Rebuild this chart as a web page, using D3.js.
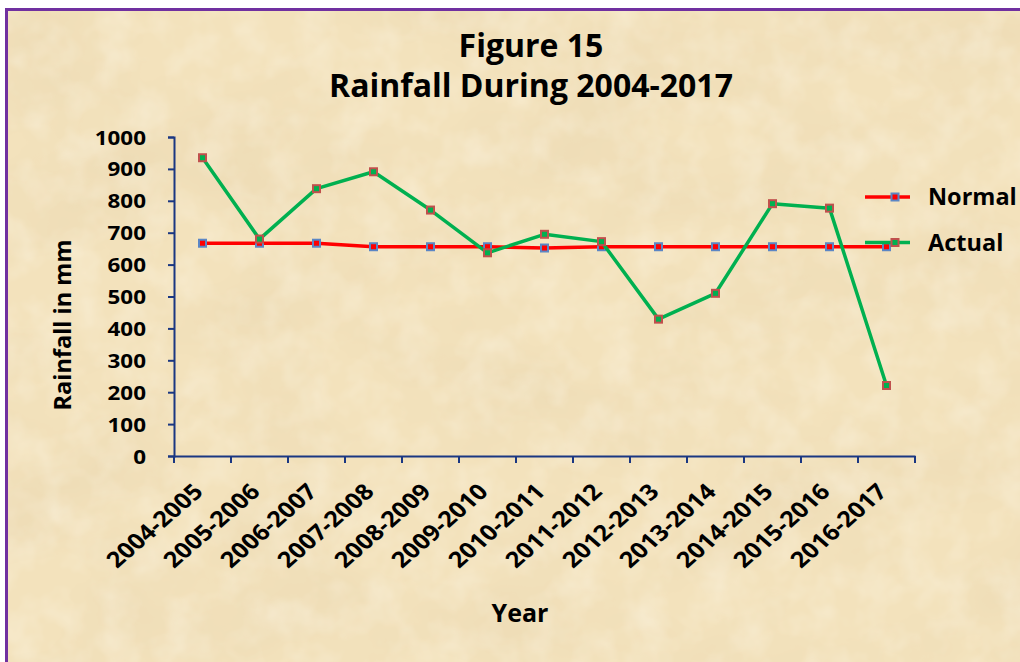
<!DOCTYPE html>
<html>
<head>
<meta charset="utf-8">
<script src="https://cdn.jsdelivr.net/npm/d3@7"></script>
<style>
  body { margin: 0; background: #fff; }
  text { font-family: "Open Sans", sans-serif; font-weight: bold; fill: #000; }
</style>
</head>
<body>
<script>
// data
let years = ["2004-2005", "2005-2006", "2006-2007", "2007-2008", "2008-2009", "2009-2010",
    "2010-2011", "2011-2012", "2012-2013", "2013-2014", "2014-2015", "2015-2016", "2016-2017"];
let normal = [667, 667, 667, 656, 656, 656, 652, 656, 656, 656, 656, 656, 656];
let actual = [935, 680, 838, 891, 771, 637, 695, 672, 429, 510, 791, 777, 221];
let yTicks = [0, 100, 200, 300, 400, 500, 600, 700, 800, 900, 1000];

let W = 1020, H = 662;
let margin = {top: 137, left: 174},
    width = 915 - 174,
    height = 456 - 137;
let stretch = 1.15; // the source picture is a bit wider than tall

let svg = d3.select("body").append("svg")
    .attr("width", W)
    .attr("height", H);

// parchment texture
let defs = svg.append("defs");
let f = defs.append("filter").attr("id", "paper")
    .attr("x", 0).attr("y", 0).attr("width", "100%").attr("height", "100%");
f.append("feTurbulence").attr("type", "fractalNoise")
    .attr("baseFrequency", "0.006 0.009").attr("numOctaves", 5).attr("seed", 11);
f.append("feColorMatrix").attr("type", "matrix")
    .attr("values", "0 0 0 0 0.82  0 0 0 0 0.68  0 0 0 0 0.44  1.1 0 0 0 -0.42");
let f2 = defs.append("filter").attr("id", "paper2")
    .attr("x", 0).attr("y", 0).attr("width", "100%").attr("height", "100%");
f2.append("feTurbulence").attr("type", "fractalNoise")
    .attr("baseFrequency", "0.03").attr("numOctaves", 3).attr("seed", 4);
f2.append("feColorMatrix").attr("type", "matrix")
    .attr("values", "0 0 0 0 0.99  0 0 0 0 0.95  0 0 0 0 0.84  0.7 0 0 0 -0.28");

svg.append("rect")
    .attr("x", 6).attr("y", 9).attr("width", W).attr("height", H)
    .attr("fill", "#f3e2bc");
svg.append("rect")
    .attr("x", 6).attr("y", 9).attr("width", W).attr("height", H)
    .attr("filter", "url(#paper)");
svg.append("rect")
    .attr("x", 6).attr("y", 9).attr("width", W).attr("height", H)
    .attr("filter", "url(#paper2)");
svg.append("rect")
    .attr("x", 6.5).attr("y", 9.5).attr("width", W).attr("height", H)
    .attr("fill", "none").attr("stroke", "#7030a0").attr("stroke-width", 3);

// scales
let x = d3.scaleBand().domain(years).range([0, width]);
let y = d3.scaleLinear().domain([0, 1000]).range([height, 0]);

let g = svg.append("g")
    .attr("transform", "translate(" + margin.left + "," + margin.top + ")");

// titles
svg.append("text").attr("x", 531).attr("y", 57)
    .attr("text-anchor", "middle").style("font-size", "32px").text("Figure 15");
svg.append("text").attr("x", 531).attr("y", 97)
    .attr("text-anchor", "middle").style("font-size", "32px").text("Rainfall During 2004-2017");

// axes
let axisColor = "#1a3782";
let yAxis = g.append("g")
    .call(d3.axisLeft(y).tickValues(yTicks).tickSize(6).tickFormat(d3.format("d")));
let xAxis = g.append("g")
    .attr("transform", "translate(0," + height + ")")
    .call(d3.axisBottom(x).tickSize(0).tickFormat(""));

// category boundary ticks on the x axis
xAxis.selectAll(".bnd")
    .data(years.map(function(d) { return x(d); }).concat([width]))
    .enter().append("line")
    .attr("x1", function(d) { return d; })
    .attr("x2", function(d) { return d; })
    .attr("y1", 0).attr("y2", 7)
    .attr("stroke", axisColor).attr("stroke-width", 2);

[yAxis, xAxis].forEach(function(a) {
    a.select(".domain").attr("stroke", axisColor).attr("stroke-width", 2);
    a.selectAll(".tick line").attr("stroke", axisColor).attr("stroke-width", 2);
});
yAxis.selectAll(".tick text")
    .style("font-size", "19.5px").style("font-family", "'Open Sans', sans-serif")
    .attr("fill", "#000")
    .attr("x", -28 / stretch)
    .attr("dy", "0.36em")
    .attr("transform", "scale(" + stretch + ",1)");

// rotated category labels
g.selectAll(".xlab")
    .data(years)
    .enter().append("text")
    .attr("class", "xlab")
    .attr("text-anchor", "end")
    .style("font-size", "22px")
    .attr("transform", function(d) {
        return "translate(" + (x(d) + x.bandwidth() / 2 + 2) + "," + (height + 37) + ") scale(" + stretch + ",1) rotate(-45)";
    })
    .text(function(d) { return d; });

svg.append("text")
    .attr("transform", "translate(71,325) rotate(-90)")
    .attr("text-anchor", "middle").style("font-size", "23.5px")
    .text("Rainfall in mm");
svg.append("text").attr("x", 520).attr("y", 622)
    .attr("text-anchor", "middle").style("font-size", "25px").text("Year");

// lines
let line = function(vals) {
    return d3.line()
        .x(function(d, i) { return x(years[i]) + x.bandwidth() / 2; })
        .y(function(d) { return y(d); })(vals);
};

let series = [
    {name: "Normal", values: normal, stroke: "#ff0000", fill: "#ff0000", edge: "#5b86c5"},
    {name: "Actual", values: actual, stroke: "#00b050", fill: "#00b050", edge: "#c0504d"}
];

series.forEach(function(s) {
    g.append("path")
        .attr("d", line(s.values))
        .attr("fill", "none")
        .attr("stroke", s.stroke)
        .attr("stroke-width", 3.5)
        .attr("stroke-linejoin", "round");
    g.selectAll(null)
        .data(s.values)
        .enter().append("rect")
        .attr("x", function(d, i) { return x(years[i]) + x.bandwidth() / 2 - 3.5; })
        .attr("y", function(d) { return y(d) - 3.5; })
        .attr("width", 7).attr("height", 7)
        .attr("fill", s.fill)
        .attr("stroke", s.edge)
        .attr("stroke-width", 2);
});

// legend
let legend = svg.append("g").attr("transform", "translate(865,197)");
series.forEach(function(s, i) {
    let lg = legend.append("g").attr("transform", "translate(0," + (i * 45.5) + ")");
    lg.append("line").attr("x1", 0).attr("x2", 45).attr("y1", 0).attr("y2", 0)
        .attr("stroke", s.stroke).attr("stroke-width", 3.5);
    lg.append("rect").attr("x", 26.5).attr("y", -3.5).attr("width", 7).attr("height", 7)
        .attr("fill", s.fill).attr("stroke", s.edge).attr("stroke-width", 2);
    lg.append("text").attr("x", 63).attr("y", 8).style("font-size", "23.5px").text(s.name);
});
</script>
</body>
</html>
